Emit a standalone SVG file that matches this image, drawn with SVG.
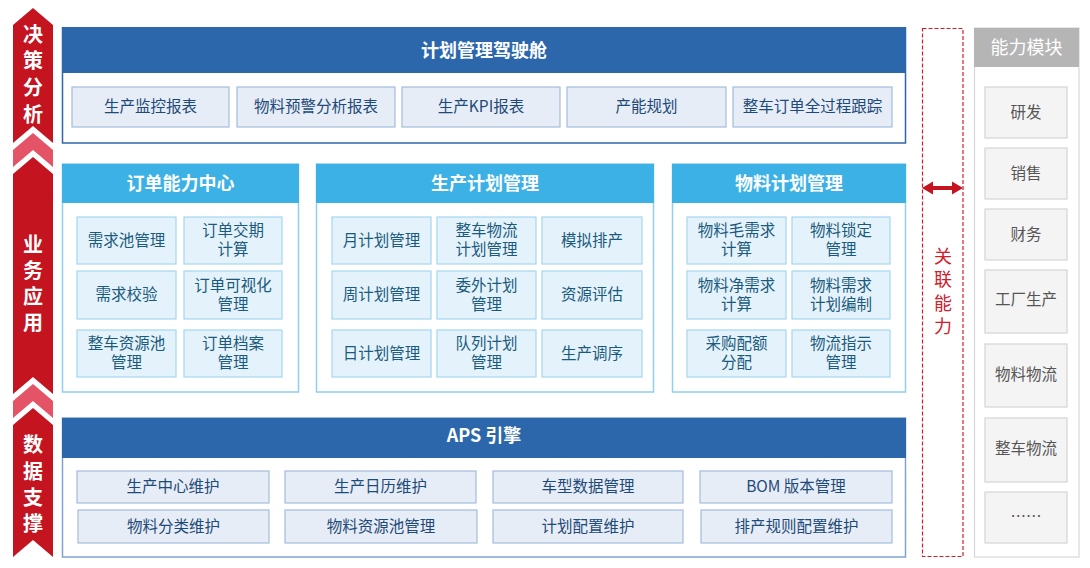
<svg xmlns="http://www.w3.org/2000/svg" width="1090" height="568" viewBox="0 0 1090 568">
<defs>
<style>
text{font-family:"Noto Sans CJK SC","Noto Sans",sans-serif;text-anchor:middle;dominant-baseline:central}
.bar{fill:#c3141f}
.pink{fill:#e45466}
.bt{fill:#fff;font-size:20px;font-weight:bold}
.dk{fill:#2c67ac}
.lt{fill:#3cb1e5}
.hd{fill:#fff;font-size:18px;font-weight:bold}
.frameD{fill:#fff;stroke:#2c67ac;stroke-width:1.5}
.frameL{fill:#fff;stroke:#8fd0ee;stroke-width:1.5}
.b1{fill:#e7edf6;stroke:#a3bcdc;stroke-width:1.2}
.t1{fill:#1d4a78;font-size:15.5px}
.b2{fill:#e4f3fb;stroke:#a2d7f0;stroke-width:1.2}
.t2{fill:#1b5a7c;font-size:15.5px}
.b3{fill:#f4f4f4;stroke:#d4d4d4;stroke-width:1.2}
.t3{fill:#555;font-size:15.5px}
.rt{fill:#d0202c;font-size:18px}
</style>
</defs>

<g id="side-bar">
<polygon class="bar" points="33,8 53,25 53,143 33,126 13,143 13,25"/>
<polygon class="pink" points="33,133 53,150 53,167 33,150 13,167 13,150"/>
<polygon class="bar" points="33,157 53,174 53,394 33,377 13,394 13,174"/>
<polygon class="pink" points="33,384 53,401 53,418 33,401 13,418 13,401"/>
<polygon class="bar" points="33,408 53,425 53,557 33,540 13,557 13,425"/>
<text class="bt" x="33" y="33">决</text>
<text class="bt" x="33" y="59">策</text>
<text class="bt" x="33" y="86">分</text>
<text class="bt" x="33" y="113">析</text>
<text class="bt" x="33" y="243">业</text>
<text class="bt" x="33" y="269">务</text>
<text class="bt" x="33" y="295">应</text>
<text class="bt" x="33" y="321">用</text>
<text class="bt" x="33" y="443">数</text>
<text class="bt" x="33" y="470">据</text>
<text class="bt" x="33" y="496">支</text>
<text class="bt" x="33" y="522">撑</text>
</g>

<g id="cockpit">
<rect class="frameD" x="62.5" y="28" width="843" height="115"/>
<rect class="dk" x="62" y="27" width="844" height="46"/>
<text class="hd" x="484" y="48.5">计划管理驾驶舱</text>
<rect class="b1" x="72" y="87" width="157" height="40"/><text class="t1" x="150.5" y="105">生产监控报表</text>
<rect class="b1" x="237" y="87" width="158" height="40"/><text class="t1" x="316" y="105">物料预警分析报表</text>
<rect class="b1" x="402" y="87" width="158" height="40"/><text class="t1" x="481" y="105">生产KPI报表</text>
<rect class="b1" x="567" y="87" width="159" height="40"/><text class="t1" x="646.5" y="105">产能规划</text>
<rect class="b1" x="733" y="87" width="159" height="40"/><text class="t1" x="812.5" y="105">整车订单全过程跟踪</text>
</g>

<g id="order-center">
<rect class="frameL" x="62.5" y="164" width="236" height="228"/>
<rect class="lt" x="62" y="164" width="237" height="39"/>
<text class="hd" x="180.5" y="182">订单能力中心</text>
<rect class="b2" x="77" y="217" width="99" height="47"/><text class="t2" x="126.5" y="238.5">需求池管理</text>
<rect class="b2" x="184" y="217" width="98" height="47"/><text class="t2" x="233" y="229">订单交期</text><text class="t2" x="233" y="248">计算</text>
<rect class="b2" x="77" y="271" width="99" height="48"/><text class="t2" x="126.5" y="293">需求校验</text>
<rect class="b2" x="184" y="271" width="98" height="48"/><text class="t2" x="233" y="283.5">订单可视化</text><text class="t2" x="233" y="302.5">管理</text>
<rect class="b2" x="77" y="330" width="99" height="47"/><text class="t2" x="126.5" y="342">整车资源池</text><text class="t2" x="126.5" y="361">管理</text>
<rect class="b2" x="184" y="330" width="98" height="47"/><text class="t2" x="233" y="342">订单档案</text><text class="t2" x="233" y="361">管理</text>
</g>

<g id="production-plan">
<rect class="frameL" x="316.5" y="164" width="337" height="228"/>
<rect class="lt" x="316" y="164" width="338" height="39"/>
<text class="hd" x="485" y="182">生产计划管理</text>
<rect class="b2" x="332" y="217" width="99" height="47"/><text class="t2" x="381.5" y="238.5">月计划管理</text>
<rect class="b2" x="437" y="217" width="99" height="47"/><text class="t2" x="486.5" y="229">整车物流</text><text class="t2" x="486.5" y="248">计划管理</text>
<rect class="b2" x="542" y="217" width="100" height="47"/><text class="t2" x="592" y="238.5">模拟排产</text>
<rect class="b2" x="332" y="271" width="99" height="48"/><text class="t2" x="381.5" y="293">周计划管理</text>
<rect class="b2" x="437" y="271" width="99" height="48"/><text class="t2" x="486.5" y="283.5">委外计划</text><text class="t2" x="486.5" y="302.5">管理</text>
<rect class="b2" x="542" y="271" width="100" height="48"/><text class="t2" x="592" y="293">资源评估</text>
<rect class="b2" x="332" y="330" width="99" height="47"/><text class="t2" x="381.5" y="351.5">日计划管理</text>
<rect class="b2" x="437" y="330" width="99" height="47"/><text class="t2" x="486.5" y="342">队列计划</text><text class="t2" x="486.5" y="361">管理</text>
<rect class="b2" x="542" y="330" width="100" height="47"/><text class="t2" x="592" y="351.5">生产调序</text>
</g>

<g id="material-plan">
<rect class="frameL" x="672.5" y="164" width="233" height="228"/>
<rect class="lt" x="672" y="164" width="234" height="39"/>
<text class="hd" x="789" y="182">物料计划管理</text>
<rect class="b2" x="687" y="217" width="99" height="47"/><text class="t2" x="736.5" y="229">物料毛需求</text><text class="t2" x="736.5" y="248">计算</text>
<rect class="b2" x="792" y="217" width="98" height="47"/><text class="t2" x="841" y="229">物料锁定</text><text class="t2" x="841" y="248">管理</text>
<rect class="b2" x="687" y="271" width="99" height="48"/><text class="t2" x="736.5" y="283.5">物料净需求</text><text class="t2" x="736.5" y="302.5">计算</text>
<rect class="b2" x="792" y="271" width="98" height="48"/><text class="t2" x="841" y="283.5">物料需求</text><text class="t2" x="841" y="302.5">计划编制</text>
<rect class="b2" x="687" y="330" width="99" height="47"/><text class="t2" x="736.5" y="342">采购配额</text><text class="t2" x="736.5" y="361">分配</text>
<rect class="b2" x="792" y="330" width="98" height="47"/><text class="t2" x="841" y="342">物流指示</text><text class="t2" x="841" y="361">管理</text>
</g>

<g id="aps-engine">
<rect class="frameD" x="62.5" y="418" width="843" height="139" style="stroke:#7fa3cf"/>
<rect class="dk" x="62" y="418" width="844" height="40"/>
<text class="hd" x="484" y="434">APS 引擎</text>
<rect class="b1" x="77" y="471" width="192" height="32"/><text class="t1" x="173" y="485">生产中心维护</text>
<rect class="b1" x="285" y="471" width="191" height="32"/><text class="t1" x="380.5" y="485">生产日历维护</text>
<rect class="b1" x="493" y="471" width="190" height="32"/><text class="t1" x="588" y="485">车型数据管理</text>
<rect class="b1" x="700" y="471" width="192" height="32"/><text class="t1" x="796" y="485">BOM 版本管理</text>
<rect class="b1" x="78" y="510" width="191" height="33"/><text class="t1" x="173.5" y="524.5">物料分类维护</text>
<rect class="b1" x="285" y="510" width="192" height="33"/><text class="t1" x="381" y="524.5">物料资源池管理</text>
<rect class="b1" x="493" y="510" width="190" height="33"/><text class="t1" x="588" y="524.5">计划配置维护</text>
<rect class="b1" x="701" y="510" width="191" height="33"/><text class="t1" x="796.5" y="524.5">排产规则配置维护</text>
</g>

<g id="relation">
<rect x="922.5" y="28.5" width="40.5" height="528" fill="none" stroke="#d0202c" stroke-width="1.2" stroke-dasharray="4,2"/>
<text class="rt" x="943" y="255">关</text>
<text class="rt" x="943" y="278">联</text>
<text class="rt" x="943" y="302">能</text>
<text class="rt" x="943" y="325">力</text>
</g>

<g id="capability">
<rect x="974.5" y="28" width="104.5" height="529" fill="#fff" stroke="#d8d8d8" stroke-width="1.2"/>
<rect x="974" y="28" width="105" height="39" fill="#b5b5b5"/>
<text x="1026.5" y="45.5" style="fill:#fff;font-size:18px">能力模块</text>
<rect class="b3" x="985" y="87" width="82" height="51"/><text class="t3" x="1026" y="110.5">研发</text>
<rect class="b3" x="985" y="148" width="82" height="51"/><text class="t3" x="1026" y="171.5">销售</text>
<rect class="b3" x="985" y="209" width="82" height="51"/><text class="t3" x="1026" y="232.5">财务</text>
<rect class="b3" x="985" y="270" width="82" height="63"/><text class="t3" x="1026" y="298">工厂生产</text>
<rect class="b3" x="985" y="344" width="82" height="63"/><text class="t3" x="1026" y="373">物料物流</text>
<rect class="b3" x="985" y="418" width="82" height="64"/><text class="t3" x="1026" y="447">整车物流</text>
<rect class="b3" x="985" y="492" width="82" height="51"/><text class="t3" x="1026" y="515">……</text>
</g>

<g id="connectors">
<polygon fill="#c3141f" points="922,188 933,181.5 933,186 952,186 952,181.5 963,188 952,194.5 952,190 933,190 933,194.5"/>
</g>
</svg>
